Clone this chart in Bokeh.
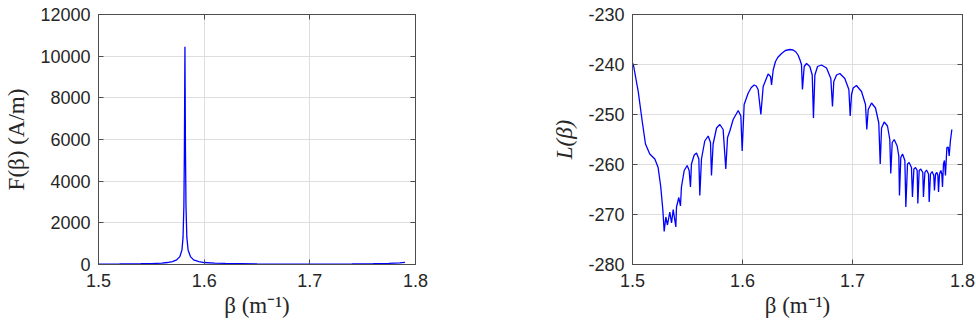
from bokeh.plotting import figure
from bokeh.layouts import row
from bokeh.models import FixedTicker, Range1d, LinearAxis
from bokeh.embed import file_html
from bokeh.resources import INLINE

# ---------------- data: left panel F(beta) ----------------
beta_F = [1.500, 1.520, 1.540, 1.550, 1.560, 1.565, 1.570, 1.574, 1.577, 1.579,
          1.580, 1.5808, 1.5813, 1.5816, 1.5818, 1.5820, 1.5823, 1.5828, 1.5836,
          1.5848, 1.587, 1.590, 1.595, 1.600, 1.610, 1.620, 1.650, 1.700, 1.740,
          1.760, 1.775, 1.785, 1.790]
F_vals = [20, 25, 35, 45, 70, 95, 140, 220, 380, 700,
          1300, 2800, 5500, 8500, 10450, 8500, 5500, 2800, 1300,
          700, 380, 220, 140, 95, 65, 50, 30, 20, 25,
          35, 55, 80, 100]

# ---------------- data: right panel L(beta) ----------------
beta_L = [1.5006, 1.5052, 1.5088, 1.5118, 1.5157, 1.5203, 1.5233, 1.5257, 1.5276, 1.5288,
          1.5303, 1.5318, 1.5339, 1.5355, 1.5370, 1.5394, 1.5400, 1.5421, 1.5436, 1.5445,
          1.5470, 1.5497, 1.5515, 1.5527, 1.5536, 1.5561, 1.5582, 1.5603, 1.5612, 1.5627,
          1.5657, 1.5688, 1.5709, 1.5718, 1.5733, 1.5764, 1.5794, 1.5824, 1.5848, 1.5864,
          1.5885, 1.5915, 1.5961, 1.5985, 1.5997, 1.6015, 1.6052, 1.6080, 1.6106, 1.6125,
          1.6142, 1.6167, 1.6188, 1.6233, 1.6255, 1.6264, 1.6279, 1.6300, 1.6320, 1.6355,
          1.6390, 1.6430, 1.6460, 1.6486, 1.6505, 1.6523, 1.6536, 1.6545, 1.6561, 1.6582,
          1.6612, 1.6634, 1.6645, 1.6658, 1.6682, 1.6718, 1.6764, 1.6803, 1.6818, 1.6830,
          1.6855, 1.6885, 1.6930, 1.6967, 1.6979, 1.6991, 1.7006, 1.7036, 1.7082, 1.7118,
          1.7130, 1.7143, 1.7173, 1.7209, 1.7239, 1.7252, 1.7264, 1.7288, 1.7318, 1.7339,
          1.7348, 1.7361, 1.7379, 1.7406, 1.7421, 1.7427, 1.7439, 1.7455, 1.7476, 1.7485,
          1.7500, 1.7515, 1.7536, 1.7545, 1.7558, 1.7573, 1.7588, 1.7594, 1.7606, 1.7621,
          1.7639, 1.7645, 1.7658, 1.7673, 1.7691, 1.7697, 1.7709, 1.7724, 1.7739, 1.7745,
          1.7755, 1.7767, 1.7776, 1.7782, 1.7791, 1.7803, 1.7812, 1.7818, 1.7827, 1.7836,
          1.7845, 1.7858, 1.7870, 1.7879, 1.7890, 1.7903]
L_vals = [-239.8, -245.4, -251.3, -255.9, -257.9, -258.9, -260.6, -264.5, -269.1, -273.4,
          -270.5, -272.1, -269.5, -271.7, -269.0, -272.5, -268.5, -266.6, -268.3, -264.5,
          -261.2, -260.2, -261.2, -264.5, -259.9, -258.1, -257.7, -258.9, -266.2, -258.9,
          -255.3, -254.3, -255.6, -262.2, -255.9, -252.7, -252.0, -253.0, -260.9, -254.6,
          -253.3, -251.0, -249.2, -250.3, -257.3, -248.0, -245.7, -244.6, -244.1, -244.3,
          -245.0, -250.0, -244.4, -241.9, -242.4, -244.1, -241.1, -239.4, -238.6, -237.8,
          -237.2, -237.0, -237.1, -237.5, -238.1, -239.1, -240.0, -245.0, -240.4, -239.8,
          -240.4, -242.1, -250.7, -242.1, -240.4, -240.1, -240.7, -242.8, -248.4, -243.4,
          -242.1, -241.8, -242.8, -245.0, -250.3, -246.0, -244.7, -244.2, -245.4, -248.0,
          -253.0, -249.0, -247.7, -248.7, -251.7, -259.9, -252.7, -251.5, -252.3, -255.0,
          -261.8, -255.6, -255.0, -256.3, -258.3, -266.2, -258.6, -257.9, -259.2, -268.5,
          -259.9, -259.6, -260.6, -266.5, -260.9, -260.6, -261.2, -267.8, -261.2, -260.9,
          -261.6, -266.5, -261.6, -261.1, -261.9, -267.5, -261.9, -261.4, -262.2, -265.2,
          -261.9, -261.6, -262.2, -265.5, -261.9, -261.2, -261.9, -264.5, -259.9, -259.2,
          -262.2, -256.6, -256.5, -258.3, -255.3, -253.0]

x_ticks = [1.5, 1.6, 1.7, 1.8]
F_ticks = [0, 2000, 4000, 6000, 8000, 10000, 12000]
L_ticks = [-280, -270, -260, -250, -240, -230]

x_label = "β (m⁻¹)"
F_label = "F(β) (A/m)"
L_label = "L(β)"

TXT = "#262626"
GRID = "#dedede"
BOX = "#4d4d4d"


def style(p, yticks, ylabel, ystyle):
    p.xaxis.ticker = FixedTicker(ticks=x_ticks)
    p.yaxis.ticker = FixedTicker(ticks=yticks)
    p.yaxis.major_label_overrides = {t: str(t) for t in yticks}
    p.xaxis.axis_label = x_label
    p.yaxis.axis_label = ylabel
    for ax in (p.xaxis[0], p.yaxis[0]):
        ax.major_label_text_font = "Liberation Sans"
        ax.major_label_text_font_size = "18px"
        ax.major_label_text_color = TXT
        ax.axis_label_text_font = "Liberation Serif"
        ax.axis_label_text_font_size = "23px"
        ax.axis_label_text_color = TXT
        ax.axis_line_color = BOX
        ax.major_tick_line_color = BOX
        ax.major_tick_in = 5
        ax.major_tick_out = 0
        ax.minor_tick_line_color = None
    p.xaxis.axis_label_text_font_style = "normal"
    p.yaxis.axis_label_text_font_style = ystyle
    p.xaxis.major_label_standoff = 9
    p.xaxis.axis_label_standoff = 3
    p.yaxis.major_label_standoff = 8
    p.yaxis.axis_label_standoff = 8
    p.grid.grid_line_color = GRID
    p.outline_line_color = BOX
    p.outline_line_alpha = 1.0
    p.background_fill_color = "white"
    p.border_fill_color = "white"
    # box ticks on the top and right edges (labels not drawn)
    for loc, ticks in (("above", x_ticks), ("right", yticks)):
        ax = LinearAxis(ticker=FixedTicker(ticks=ticks), major_label_text_color=None,
                        major_label_text_font_size="1px", major_label_standoff=0,
                        major_tick_in=5, major_tick_out=0, minor_tick_line_color=None,
                        axis_line_color=BOX, major_tick_line_color=BOX)
        p.add_layout(ax, loc)


p1 = figure(width=450, height=329, x_range=Range1d(1.5, 1.8), y_range=Range1d(0, 12000),
            output_backend="svg", toolbar_location=None,
            min_border_left=98, min_border_right=35, min_border_top=13, min_border_bottom=65)
p1.line(beta_F, F_vals, line_color="#0000ff", line_width=1.3)
style(p1, F_ticks, F_label, "normal")

p2 = figure(width=526, height=329, x_range=Range1d(1.5, 1.8), y_range=Range1d(-280, -230),
            output_backend="svg", toolbar_location=None,
            min_border_left=182, min_border_right=14, min_border_top=14, min_border_bottom=64)
p2.line(beta_L, L_vals, line_color="#0000ff", line_width=1.3)
style(p2, L_ticks, L_label, "italic")

layout = row(p1, p2)
open("out.html", "w").write(file_html(layout, INLINE))
